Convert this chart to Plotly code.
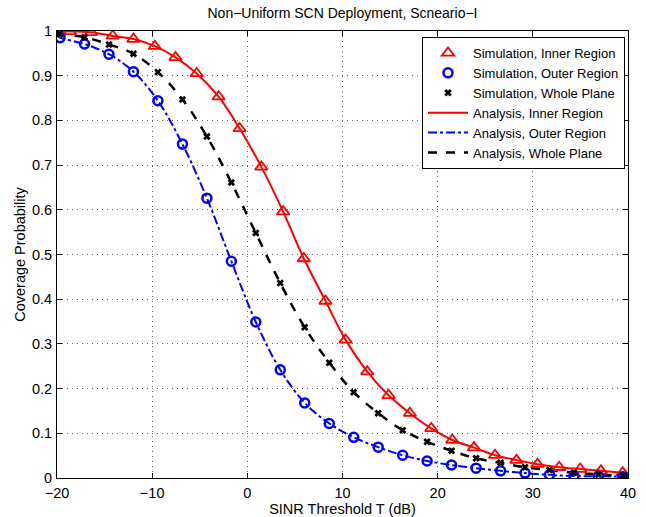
import plotly.graph_objects as go

# ---- data ----
x_inner = [-18.63, -16.42, -14.14, -11.97, -9.72, -7.55, -5.32, -3.02, -0.81, 1.47, 3.76,
           5.93, 8.21, 10.32, 12.6, 14.84, 17.08, 19.33, 21.54, 23.82, 26.03, 28.28,
           30.49, 32.77, 34.98, 37.16, 39.44]
y_inner_sim = [0.999, 0.997, 0.989, 0.982, 0.966, 0.941, 0.905, 0.853, 0.782, 0.696, 0.596,
               0.491, 0.396, 0.309, 0.238, 0.185, 0.145, 0.111, 0.085, 0.068, 0.051, 0.040,
               0.031, 0.024, 0.020, 0.016, 0.012]

x_outer = [-19.68, -17.11, -14.54, -11.97, -9.40, -6.82, -4.25, -1.68, 0.89, 3.46, 6.03,
           8.61, 11.18, 13.75, 16.32, 18.89, 21.46, 24.04, 26.61, 29.18, 31.75, 34.32,
           36.89, 39.47]
y_outer_sim = [0.985, 0.971, 0.948, 0.909, 0.844, 0.747, 0.626, 0.485, 0.349, 0.242, 0.168,
               0.122, 0.091, 0.069, 0.051, 0.038, 0.029, 0.022, 0.016, 0.011, 0.007, 0.0045,
               0.004, 0.003]

x_whole = x_outer
y_whole_sim = [0.993, 0.986, 0.970, 0.949, 0.908, 0.847, 0.764, 0.661, 0.548, 0.436, 0.337,
               0.258, 0.192, 0.145, 0.107, 0.081, 0.061, 0.044, 0.034, 0.024, 0.018, 0.012,
               0.008, 0.005]

# analysis curves
x_inner_ana = [-20] + x_inner + [40]
y_inner_ana = [1.0] + y_inner_sim + [0.011]
x_outer_ana = [-20] + x_outer + [40]
y_outer_ana = [0.99] + y_outer_sim + [0.003]
x_whole_ana = [-20] + x_whole + [40]
y_whole_ana = [0.996] + y_whole_sim + [0.005]

x_ticks = [-20, -10, 0, 10, 20, 30, 40]
y_ticks = [0, 0.1, 0.2, 0.3, 0.4, 0.5, 0.6, 0.7, 0.8, 0.9, 1]

FONT = "Liberation Sans, Arial, Helvetica, sans-serif"
TICK = 14.5

fig = go.Figure()

fig.add_trace(go.Scatter(x=x_inner_ana, y=y_inner_ana, mode="lines", name="Analysis, Inner Region",
                         line=dict(color="#ff0000", width=2, shape="spline"), legendrank=4))
fig.add_trace(go.Scatter(x=x_outer_ana, y=y_outer_ana, mode="lines", name="Analysis, Outer Region",
                         line=dict(color="#0000ff", width=2, dash="dashdot", shape="spline"), legendrank=5))
fig.add_trace(go.Scatter(x=x_whole_ana, y=y_whole_ana, mode="lines", name="Analysis, Whole Plane",
                         line=dict(color="#000000", width=2.5, dash="dash", shape="spline"), legendrank=6))

fig.add_trace(go.Scatter(x=x_inner, y=y_inner_sim, mode="markers", name="Simulation, Inner Region",
                         marker=dict(symbol="triangle-up-open", size=11, color="#ff0000",
                                     line=dict(width=1.8, color="#ff0000")), legendrank=1))
fig.add_trace(go.Scatter(x=x_outer, y=y_outer_sim, mode="markers", name="Simulation, Outer Region",
                         marker=dict(symbol="circle-open", size=9, color="#0000ff",
                                     line=dict(width=2.5, color="#0000ff")), legendrank=2))
fig.add_trace(go.Scatter(x=x_whole, y=y_whole_sim, mode="markers", name="Simulation, Whole Plane",
                         marker=dict(symbol="x-thin", size=5.5, color="#000000",
                                     line=dict(width=2.8, color="#000000")), legendrank=3))

axis_common = dict(showline=True, linecolor="black", linewidth=1, mirror="ticks",
                   ticks="inside", ticklen=5, tickcolor="black", automargin=False,
                   showgrid=True, gridcolor="rgba(0,0,0,0.6)", griddash="1px,4px", gridwidth=1,
                   zeroline=False, tickfont=dict(family=FONT, size=TICK, color="black"))

fig.update_xaxes(range=[-20, 40], tickvals=x_ticks,
                 ticktext=[("\u2212" + str(-v)) if v < 0 else str(v) for v in x_ticks],
                 ticklabelstandoff=2,
                 title=dict(text="SINR Threshold T (dB)", font=dict(family=FONT, size=TICK, color="black"), standoff=3),
                 **axis_common)
fig.update_yaxes(range=[0, 1], tickvals=y_ticks, ticktext=[("%g" % v) for v in y_ticks],
                 ticklabelstandoff=1,
                 title=dict(text="Coverage Probability", font=dict(family=FONT, size=TICK, color="black"), standoff=2),
                 **axis_common)

fig.update_layout(
    width=646, height=517,
    margin=dict(l=57, r=18, t=31, b=39, autoexpand=False),
    paper_bgcolor="white", plot_bgcolor="white",
    font=dict(family=FONT, size=TICK, color="black"),
    title=dict(text="Non\u2212Uniform SCN Deployment, Scneario\u2212I",
               font=dict(family=FONT, size=14, color="black"),
               x=0.5, xref="paper", xanchor="center", y=1 - 13 / 517, yref="container", yanchor="middle"),
    legend=dict(x=1 - 3 / 571, y=1 - 6 / 447, xanchor="right", yanchor="top", bgcolor="white",
                bordercolor="black", borderwidth=1, font=dict(family=FONT, size=13, color="black"),
                tracegroupgap=0, itemwidth=40),
    showlegend=True,
)

fig.write_html("out.html", config={"displayModeBar": False},
               post_script="document.body.style.margin='0';")
